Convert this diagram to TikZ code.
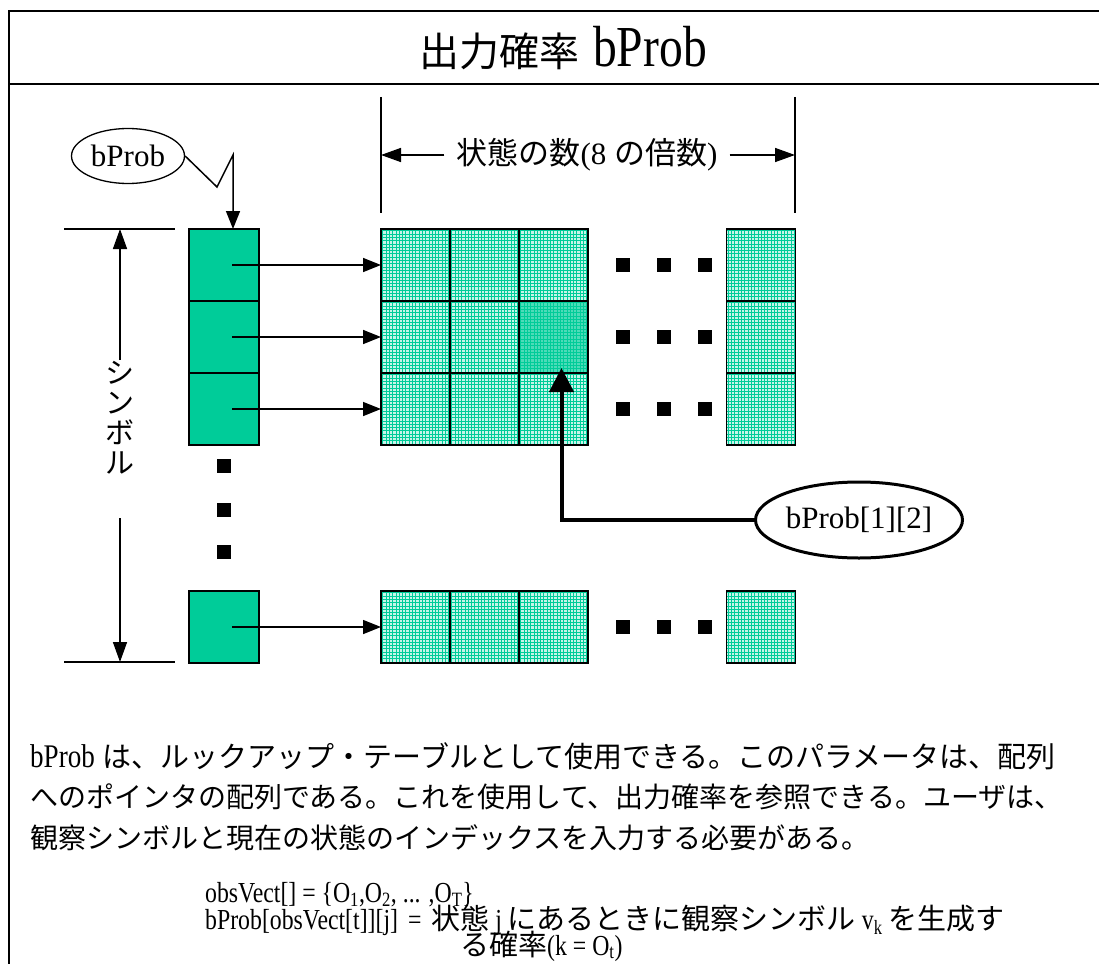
\documentclass[tikz,border=0pt]{standalone}
\usepackage{fontspec}
\setmainfont{Liberation Serif}
\newfontfamily\jp{Noto Sans CJK JP}
\newfontfamily\cs[FakeStretch=0.82]{Liberation Serif}
\usetikzlibrary{arrows.meta,shapes.geometric}
\definecolor{symgreen}{RGB}{0,204,153}
\definecolor{gridgreen}{RGB}{0,204,153}
\newcommand\jx[2]{{\jp\fontsize{#1}{#1}\selectfont #2}}
\newcommand\cx[2]{{\cs\fontsize{#1}{#1}\selectfont #2}}
\begin{document}
\begin{tikzpicture}[x=1pt,y=-1pt,
  frameln/.style={line width=2.5pt},
  plainln/.style={line width=1.5pt},
  symcell/.style={draw=black,line width=1.3pt,fill=symgreen,minimum width=70pt,minimum height=72pt,inner sep=0pt,outer sep=0pt},
  hatch/.style={draw=black,line width=1.3pt,fill=symgreen!22!white,minimum width=69pt,minimum height=72pt,inner sep=0pt,outer sep=0pt,
    path picture={\foreach \k in {1,...,22}{
      \draw[gridgreen,line width=0.8pt] ([xshift=\k*3.3pt-1.6pt]path picture bounding box.north west) -- ([xshift=\k*3.3pt-1.6pt]path picture bounding box.south west);
      \draw[gridgreen,line width=0.8pt] ([yshift=-\k*3.3pt+1.6pt]path picture bounding box.north west) -- ([yshift=-\k*3.3pt+1.6pt]path picture bounding box.north east);}}},
  hot/.style={hatch,fill=symgreen!70!white},
  dotsq/.style={fill=black,minimum size=14pt,inner sep=0pt},
  ptr/.style={line width=1.5pt,-{Triangle[length=18pt,width=14pt]}},
  dimarrow/.style={line width=1.5pt,-{Triangle[length=20pt,width=14pt]}},
  callout/.style={draw,ellipse,inner sep=0pt,font=\fontsize{31pt}{31pt}\selectfont},
  formula/.style={anchor=base west,inner sep=0pt}
]
\useasboundingbox[fill=white] (0,0) rectangle (1099,963);
% frame
\draw[frameln] (9,975) -- (9,11) -- (1110,11);
\draw[frameln] (9,84) -- (1110,84);
\node (title) at (563,48) {\jx{40pt}{出力確率}\hspace{14pt}\cx{58pt}{bProb}};

% symbol column
\node[symcell] (s1) at (224,265) {};
\node[symcell] (s2) at (224,337) {};
\node[symcell] (s3) at (224,409) {};
\node[symcell] (s4) at (224,627) {};
\node[dotsq] (v1) at (224,466) {};
\node[dotsq] (v2) at (224,510) {};
\node[dotsq] (v3) at (224,552) {};

% grid
\node[hatch] (c11) at (415.5,265) {};
\node[hatch] (c12) at (484.5,265) {};
\node[hatch] (c13) at (553.5,265) {};
\node[hatch] (c21) at (415.5,337) {};
\node[hatch] (c22) at (484.5,337) {};
\node[hot]   (c23) at (553.5,337) {};
\node[hatch] (c31) at (415.5,409) {};
\node[hatch] (c32) at (484.5,409) {};
\node[hatch] (c33) at (553.5,409) {};
\node[hatch] (r1) at (761,265) {};
\node[hatch] (r2) at (761,337) {};
\node[hatch] (r3) at (761,409) {};
\node[hatch] (b1) at (415.5,627) {};
\node[hatch] (b2) at (484.5,627) {};
\node[hatch] (b3) at (553.5,627) {};
\node[hatch] (br) at (761,627) {};

% row dots
\foreach \y/\n in {265/a,337/b,409/c,627/d}{
  \node[dotsq] (h\n1) at (623,\y) {};
  \node[dotsq] (h\n2) at (664,\y) {};
  \node[dotsq] (h\n3) at (705,\y) {};
}

% pointers
\draw[ptr] ([xshift=8pt]s1.center) -- (c11.west);
\draw[ptr] ([xshift=8pt]s2.center) -- (c21.west);
\draw[ptr] ([xshift=8pt]s3.center) -- (c31.west);
\draw[ptr] ([xshift=8pt]s4.center) -- (b1.west);

% bProb callout
\node[callout,line width=1.3pt,minimum width=113pt,minimum height=55pt] (lbl) at (128,156) {bProb};
\draw[ptr] (lbl.east) -- (217,187) -- (233,155) -- ([xshift=9pt]s1.north);

% bProb[1][2] callout
\node[callout,line width=3pt,minimum width=202pt,minimum height=76pt] (lbl2) at (859,520) {bProb[1][2]};
\draw[line width=4pt,-{Triangle[length=24pt,width=24pt]}] (lbl2.west) -| ([xshift=8pt,yshift=5pt]c23.south);

% top dimension
\draw[plainln] (381,97) -- (381,213);
\draw[plainln] (795,97) -- (795,213);
\node[inner xsep=12pt,font=\fontsize{31pt}{31pt}\selectfont] (dimtxt) at (587,155) {\jx{31pt}{状態の数}(8 \jx{31pt}{の倍数})};
\draw[dimarrow] (dimtxt.west) -- (381,155);
\draw[dimarrow] (dimtxt.east) -- (795,155);

% left dimension
\draw[plainln] (64,229) -- (175,229);
\draw[plainln] (64,662) -- (175,662);
\node[align=center,inner sep=0pt,font=\fontsize{29pt}{30pt}\selectfont] (symtxt) at (120,418) {\jx{29pt}{シ}\\\jx{29pt}{ン}\\\jx{29pt}{ボ}\\\jx{29pt}{ル}};
\coordinate (la) at (120,360);
\coordinate (lb) at (120,518);
\draw[dimarrow] (la) -- (120,229);
\draw[dimarrow] (lb) -- (120,662);

% paragraph
\node[anchor=west,inner sep=0pt] (p1) at (30,756) {\cx{33pt}{bProb}\hspace{8pt}\jx{29pt}{は、ルックアップ・テーブルとして使用できる。このパラメータは、配列}};
\node[anchor=west,inner sep=0pt] (p2) at (30,797) {\jx{28pt}{へのポインタの配列である。これを使用して、出力確率を参照できる。ユーザは、}};
\node[anchor=west,inner sep=0pt] (p3) at (30,838) {\jx{28pt}{観察シンボルと現在の状態のインデックスを入力する必要がある。}};

% formulas
\node[formula] (f1) at (205,902) {\cx{29pt}{obsVect[] = \{O\textsubscript{1},O\textsubscript{2}, ... ,O\textsubscript{T}\}}};
\node[formula] (f2) at (205,929) {\cx{29pt}{bProb[obsVect[t]][j]\hspace{10pt}=\hspace{10pt}}\jx{29pt}{状態}\cx{29pt}{ j }\jx{29pt}{にあるときに観察シンボル}\cx{29pt}{ v\textsubscript{k} }\jx{29pt}{を生成す}};
\node[formula] (f3) at (460,955) {\jx{29pt}{る確率}\cx{29pt}{(k = O\textsubscript{t})}};
\end{tikzpicture}
\end{document}
